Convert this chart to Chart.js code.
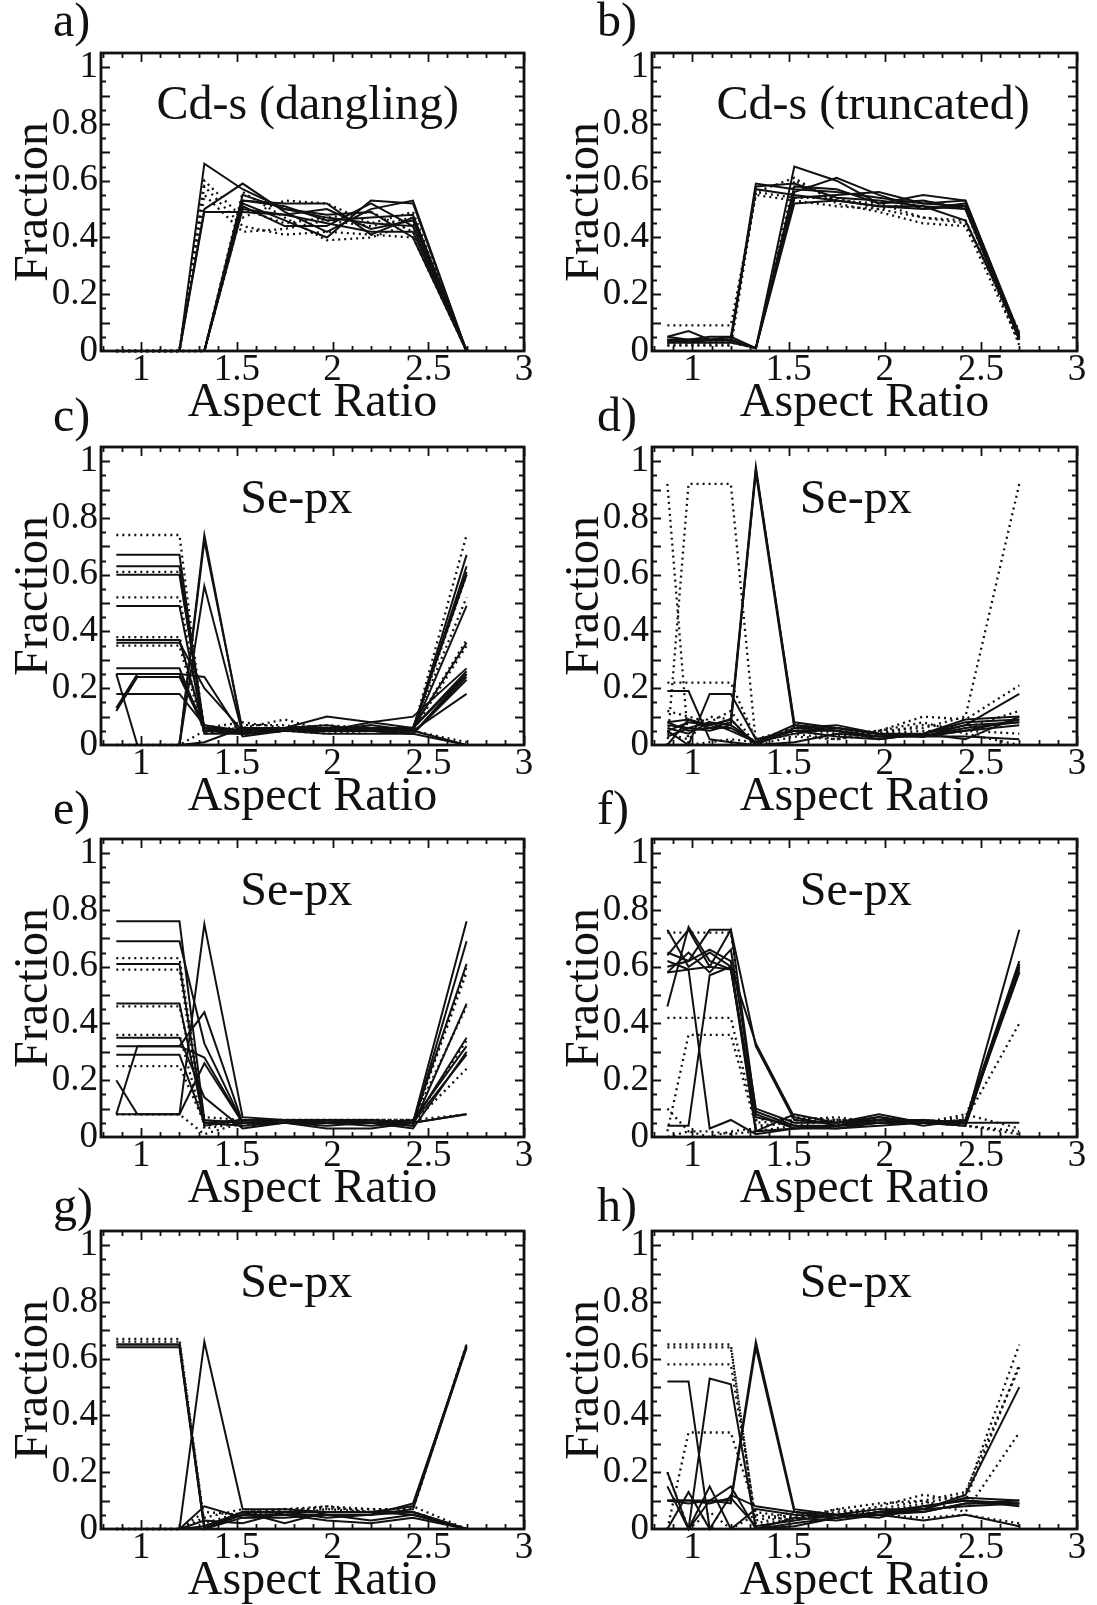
<!DOCTYPE html>
<html>
<head>
<meta charset="utf-8">
<script src="https://cdn.jsdelivr.net/npm/chart.js@4.4.1/dist/chart.umd.min.js"></script>
<style>
  html, body { margin: 0; padding: 0; background: #fff; }
  body { width: 1097px; height: 1605px; position: relative; overflow: hidden; }
  canvas { position: absolute; }
</style>
</head>
<body>
<script>
// aspect ratios sampled in every panel
const aspectRatios = [0.87, 0.98, 1.09, 1.2, 1.33, 1.53, 1.75, 1.97, 2.2, 2.42, 2.7];

// a) Cd-s (dangling)
const panelA_solid = [
    [0, 0, 0, 0, 0.66, 0.57, 0.50, 0.47, 0.45, 0.44, 0],
    [0, 0, 0, 0, 0.49, 0.49, 0.48, 0.45, 0.42, 0.42, 0],
    [0, 0, 0, 0, 0.50, 0.59, 0.49, 0.42, 0.50, 0.53, 0],
    [0, 0, 0, 0, 0, 0.53, 0.52, 0.52, 0.41, 0.47, 0],
    [0, 0, 0, 0, 0, 0.52, 0.46, 0.40, 0.53, 0.52, 0],
    [0, 0, 0, 0, 0, 0.55, 0.50, 0.48, 0.49, 0.40, 0],
    [0, 0, 0, 0, 0, 0.51, 0.44, 0.44, 0.52, 0.44, 0],
    [0, 0, 0, 0, 0, 0.53, 0.51, 0.46, 0.47, 0.48, 0],
    [0, 0, 0, 0, 0, 0.50, 0.48, 0.50, 0.43, 0.46, 0]
];
const panelA_dotted = [
    [0, 0, 0, 0, 0.58, 0.44, 0.41, 0.42, 0.41, 0.40, 0],
    [0, 0, 0, 0, 0.55, 0.42, 0.43, 0.46, 0.44, 0.47, 0],
    [0, 0, 0, 0, 0.60, 0.47, 0.53, 0.52, 0.45, 0.49, 0],
    [0, 0, 0, 0, 0, 0.56, 0.47, 0.39, 0.40, 0.45, 0],
    [0, 0, 0, 0, 0, 0.50, 0.45, 0.47, 0.49, 0.42, 0]
];

// b) Cd-s (truncated)
const panelB_solid = [
    [0.05, 0.07, 0.04, 0.04, 0.59, 0.57, 0.56, 0.54, 0.52, 0.53, 0.05],
    [0.04, 0.04, 0.04, 0.05, 0.57, 0.55, 0.53, 0.51, 0.50, 0.51, 0.04],
    [0.03, 0.03, 0.03, 0.03, 0.58, 0.59, 0.54, 0.53, 0.51, 0.46, 0.06],
    [0.04, 0.04, 0.04, 0.04, 0.01, 0.65, 0.60, 0.52, 0.53, 0.50, 0.05],
    [0.03, 0.03, 0.04, 0.04, 0.01, 0.56, 0.61, 0.55, 0.50, 0.52, 0.04],
    [0.04, 0.03, 0.03, 0.03, 0.01, 0.54, 0.55, 0.56, 0.52, 0.51, 0.05],
    [0.05, 0.04, 0.05, 0.05, 0.01, 0.58, 0.57, 0.52, 0.55, 0.53, 0.06],
    [0.03, 0.04, 0.04, 0.04, 0.01, 0.52, 0.53, 0.51, 0.51, 0.50, 0.04]
];
const panelB_dotted = [
    [0.09, 0.09, 0.09, 0.09, 0.55, 0.53, 0.51, 0.50, 0.47, 0.45, 0.07],
    [0.02, 0.02, 0.02, 0.02, 0.56, 0.61, 0.52, 0.49, 0.45, 0.44, 0.03],
    [0.03, 0.03, 0.03, 0.03, 0.01, 0.60, 0.53, 0.52, 0.47, 0.46, 0.05],
    [0.02, 0.02, 0.02, 0.02, 0.56, 0.54, 0.54, 0.50, 0.53, 0.50, 0.02]
];

// c) Se-px
const panelC_solid = [
    [0.67, 0.67, 0.67, 0.67, 0.05, 0.05, 0.06, 0.06, 0.06, 0.05, 0.67],
    [0.63, 0.63, 0.63, 0.63, 0.04, 0.04, 0.05, 0.05, 0.05, 0.05, 0.63],
    [0.60, 0.60, 0.60, 0.60, 0.06, 0.05, 0.06, 0.07, 0.05, 0.06, 0.60],
    [0.49, 0.49, 0.49, 0.49, 0.05, 0.04, 0.05, 0.05, 0.06, 0.05, 0.49],
    [0.37, 0.37, 0.37, 0.37, 0.06, 0.05, 0.06, 0.10, 0.08, 0.10, 0.27],
    [0.27, 0.27, 0.27, 0.27, 0.05, 0.05, 0.05, 0.06, 0.05, 0.06, 0.25],
    [0.18, 0.18, 0.18, 0.18, 0.07, 0.05, 0.06, 0.05, 0.07, 0.05, 0.18],
    [0.13, 0.25, 0.25, 0.25, 0.07, 0.04, 0.05, 0.06, 0.05, 0.04, 0.24],
    [0.12, 0.24, 0.24, 0.24, 0.06, 0.04, 0.05, 0.05, 0.05, 0.04, 0.23],
    [0.25, 0, 0, 0, 0.74, 0.04, 0.05, 0.05, 0.06, 0.05, 0],
    [0, 0, 0, 0, 0.72, 0.05, 0.06, 0.05, 0.05, 0.04, 0],
    [0, 0, 0, 0, 0.56, 0.04, 0.05, 0.05, 0.05, 0.06, 0.26],
    [0.25, 0.25, 0.25, 0.25, 0.24, 0.03, 0.05, 0.04, 0.04, 0.04, 0.25],
    [0.36, 0.36, 0.36, 0.36, 0.20, 0.05, 0.06, 0.05, 0.06, 0.06, 0.36],
    [0, 0, 0, 0, 0.01, 0.06, 0.06, 0.05, 0.08, 0.06, 0.61]
];
const panelC_dotted = [
    [0.74, 0.74, 0.74, 0.74, 0.04, 0.07, 0.07, 0.05, 0.05, 0.05, 0.74],
    [0.61, 0.61, 0.61, 0.61, 0.05, 0.06, 0.09, 0.05, 0.06, 0.06, 0.52],
    [0.52, 0.52, 0.52, 0.52, 0.06, 0.08, 0.06, 0.07, 0.06, 0.05, 0.60],
    [0.38, 0.38, 0.38, 0.38, 0.05, 0.05, 0.05, 0.06, 0.05, 0.06, 0.37],
    [0.35, 0.35, 0.35, 0.35, 0.04, 0.06, 0.05, 0.05, 0.06, 0.05, 0.35],
    [0, 0, 0, 0, 0.05, 0.05, 0.05, 0.04, 0.05, 0.05, 0.01]
];

// d) Se-px
const panelD_solid = [
    [0.05, 0.08, 0.07, 0.09, 0.98, 0.07, 0.06, 0.04, 0.04, 0.08, 0.09],
    [0.08, 0.05, 0.06, 0.08, 0.96, 0.06, 0.05, 0.03, 0.04, 0.07, 0.08],
    [0.07, 0.06, 0.08, 0.07, 0.97, 0.08, 0.06, 0.04, 0.03, 0.06, 0.08],
    [0.19, 0.19, 0.02, 0.01, 0, 0.06, 0.07, 0.04, 0.03, 0.07, 0.18],
    [0.05, 0, 0.18, 0.18, 0.02, 0.05, 0.05, 0.03, 0.03, 0.05, 0.09],
    [0.08, 0.09, 0.06, 0.06, 0.01, 0.07, 0.05, 0.02, 0.04, 0.09, 0.10],
    [0, 0.09, 0.07, 0.09, 0, 0.01, 0.04, 0.03, 0.03, 0.05, 0.07],
    [0.06, 0.04, 0.08, 0.05, 0.01, 0.04, 0.06, 0.04, 0.03, 0.03, 0.02],
    [0.03, 0.06, 0.05, 0.07, 0.01, 0.05, 0.03, 0.02, 0.04, 0.02, 0.10]
];
const panelD_dotted = [
    [0.92, 0, 0.01, 0.02, 0.01, 0.04, 0.02, 0.04, 0.05, 0.05, 0.04],
    [0, 0.92, 0.92, 0.92, 0.01, 0.05, 0.03, 0.05, 0.06, 0.10, 0.92],
    [0.22, 0.22, 0.22, 0.22, 0.02, 0.06, 0.04, 0.05, 0.10, 0.09, 0.21],
    [0.12, 0.10, 0.08, 0.12, 0, 0.07, 0.05, 0.04, 0.07, 0.06, 0.12],
    [0.04, 0.02, 0.10, 0.09, 0, 0.03, 0.02, 0.05, 0.08, 0.04, 0]
];

// e) Se-px
const panelE_solid = [
    [0.76, 0.76, 0.76, 0.76, 0.06, 0.05, 0.05, 0.05, 0.05, 0.05, 0.76],
    [0.69, 0.69, 0.69, 0.69, 0.33, 0.05, 0.05, 0.06, 0.05, 0.04, 0.69],
    [0.61, 0.61, 0.61, 0.61, 0.04, 0.06, 0.05, 0.04, 0.05, 0.05, 0.61],
    [0.47, 0.47, 0.47, 0.47, 0.05, 0.04, 0.05, 0.06, 0.05, 0.04, 0.47],
    [0.35, 0.35, 0.35, 0.35, 0.14, 0.03, 0.05, 0.05, 0.04, 0.05, 0.35],
    [0.32, 0.32, 0.32, 0.32, 0.28, 0.05, 0.05, 0.05, 0.05, 0.06, 0.32],
    [0.29, 0.29, 0.29, 0.29, 0.05, 0.06, 0.06, 0.05, 0.06, 0.05, 0.29],
    [0.20, 0.08, 0.08, 0.08, 0.75, 0.07, 0.06, 0.06, 0.06, 0.05, 0.08],
    [0.08, 0.32, 0.32, 0.32, 0.44, 0.05, 0.05, 0.03, 0.03, 0.05, 0.08],
    [0.08, 0.08, 0.08, 0.08, 0.26, 0.05, 0.05, 0.06, 0.05, 0.03, 0.30]
];
const panelE_dotted = [
    [0.63, 0.63, 0.63, 0.63, 0.05, 0.05, 0.05, 0.05, 0.05, 0.05, 0.60],
    [0.59, 0.59, 0.59, 0.59, 0.03, 0.05, 0.05, 0.05, 0.05, 0.05, 0.58],
    [0.46, 0.46, 0.46, 0.46, 0.07, 0.06, 0.06, 0.06, 0.06, 0.06, 0.46],
    [0.36, 0.36, 0.36, 0.36, 0.04, 0.05, 0.05, 0.06, 0.05, 0.05, 0.34],
    [0.25, 0.25, 0.25, 0.25, 0.05, 0.04, 0.05, 0.05, 0.05, 0.05, 0.24],
    [0.08, 0.08, 0.08, 0.08, 0.01, 0.05, 0.06, 0.06, 0.06, 0.06, 0.08]
];

// f) Se-px
const panelF_solid = [
    [0.73, 0.60, 0.65, 0.60, 0.33, 0.07, 0.04, 0.07, 0.05, 0.05, 0.73],
    [0.64, 0.73, 0.60, 0.73, 0.32, 0.06, 0.05, 0.08, 0.05, 0.06, 0.62],
    [0.60, 0.62, 0.73, 0.73, 0.09, 0.04, 0.04, 0.06, 0.06, 0.05, 0.61],
    [0.46, 0.74, 0.62, 0.59, 0.08, 0.03, 0.04, 0.05, 0.05, 0.05, 0.60],
    [0.58, 0.65, 0.58, 0.66, 0.10, 0.05, 0.05, 0.07, 0.04, 0.06, 0.59],
    [0.62, 0.59, 0.60, 0.59, 0.07, 0.04, 0.03, 0.05, 0.06, 0.05, 0.58],
    [0.04, 0.04, 0.57, 0.60, 0.02, 0.08, 0.05, 0.06, 0.05, 0.04, 0.61],
    [0.58, 0.59, 0.03, 0.06, 0.01, 0.03, 0.03, 0.04, 0.05, 0.05, 0.05],
    [0.65, 0.62, 0.66, 0.62, 0.02, 0.03, 0.04, 0.05, 0.05, 0.04, 0.60]
];
const panelF_dotted = [
    [0.72, 0.72, 0.72, 0.72, 0.06, 0.07, 0.06, 0.05, 0.05, 0.06, 0.40],
    [0.42, 0.42, 0.42, 0.42, 0.05, 0.06, 0.05, 0.05, 0.05, 0.07, 0.58],
    [0.02, 0.36, 0.36, 0.36, 0.04, 0.05, 0.06, 0.06, 0.05, 0.04, 0.02],
    [0, 0.02, 0, 0.02, 0.03, 0.06, 0.07, 0.05, 0.06, 0.04, 0.01],
    [0.10, 0.02, 0.02, 0.01, 0.02, 0.04, 0.06, 0.06, 0.05, 0.08, 0.03]
];

// g) Se-px
const panelG_solid = [
    [0.65, 0.65, 0.65, 0.65, 0, 0.06, 0.06, 0.06, 0.06, 0.08, 0.65],
    [0.65, 0.65, 0.65, 0.65, 0.01, 0.05, 0.05, 0.05, 0.05, 0.07, 0.64],
    [0.64, 0.64, 0.64, 0.64, 0, 0.04, 0.04, 0.05, 0.05, 0.09, 0.64],
    [0, 0, 0, 0, 0.66, 0.07, 0.07, 0.06, 0.06, 0.06, 0],
    [0, 0, 0, 0, 0.08, 0.04, 0.05, 0.05, 0.03, 0.05, 0],
    [0, 0, 0, 0, 0.03, 0.02, 0.06, 0.04, 0.05, 0.06, 0],
    [0, 0, 0, 0, 0.01, 0.06, 0.02, 0.06, 0.06, 0.05, 0],
    [0, 0, 0, 0, 0, 0.05, 0.05, 0.03, 0.02, 0.04, 0]
];
const panelG_dotted = [
    [0.67, 0.67, 0.67, 0.67, 0.02, 0.06, 0.07, 0.07, 0.07, 0.07, 0.65],
    [0.66, 0.66, 0.66, 0.66, 0.01, 0.05, 0.06, 0.08, 0.07, 0.07, 0.65],
    [0, 0, 0, 0, 0.06, 0.05, 0.07, 0.08, 0.06, 0.08, 0],
    [0, 0, 0, 0, 0.04, 0.07, 0.05, 0.07, 0.06, 0.06, 0]
];

// h) Se-px
const panelH_solid = [
    [0.52, 0.52, 0, 0, 0.07, 0.05, 0.04, 0.06, 0.07, 0.12, 0.50],
    [0, 0, 0.53, 0.51, 0, 0.02, 0.04, 0.06, 0.08, 0.10, 0.09],
    [0.10, 0.10, 0.10, 0.10, 0.66, 0.07, 0.05, 0.05, 0.07, 0.08, 0.09],
    [0.10, 0.09, 0.10, 0.09, 0.64, 0.06, 0.04, 0.06, 0.06, 0.09, 0.10],
    [0.20, 0, 0.15, 0, 0, 0.04, 0.03, 0.05, 0.06, 0.09, 0.09],
    [0.15, 0, 0.10, 0.15, 0, 0.01, 0.04, 0.05, 0.03, 0.05, 0.01],
    [0, 0.13, 0, 0.12, 0.08, 0.06, 0.05, 0.07, 0.07, 0.11, 0.10],
    [0.10, 0.10, 0.09, 0.11, 0.01, 0.03, 0.05, 0.04, 0.08, 0.10, 0.08]
];
const panelH_dotted = [
    [0.65, 0.65, 0.65, 0.65, 0.01, 0.04, 0.05, 0.06, 0.09, 0.12, 0.65],
    [0.64, 0.64, 0.64, 0.64, 0.02, 0.05, 0.06, 0.07, 0.10, 0.13, 0.57],
    [0.58, 0.58, 0.58, 0.58, 0.03, 0.06, 0.05, 0.08, 0.12, 0.10, 0.58],
    [0, 0.34, 0.34, 0.34, 0.06, 0.04, 0.07, 0.09, 0.10, 0.06, 0.34],
    [0.20, 0, 0.06, 0, 0.05, 0.03, 0.07, 0.05, 0.04, 0.05, 0.02]
];

const panelLetters = ['a)', 'b)', 'c)', 'd)', 'e)', 'f)', 'g)', 'h)'];
const panelTitles = ['Cd-s (dangling)', 'Cd-s (truncated)', 'Se-px', 'Se-px', 'Se-px', 'Se-px', 'Se-px', 'Se-px'];
const solidSeries = [panelA_solid, panelB_solid, panelC_solid, panelD_solid, panelE_solid, panelF_solid, panelG_solid, panelH_solid];
const dottedSeries = [panelA_dotted, panelB_dotted, panelC_dotted, panelD_dotted, panelE_dotted, panelF_dotted, panelG_dotted, panelH_dotted];

// layout
const FONT = "'Liberation Serif', 'Times New Roman', serif";
const INK = '#111';
const colLeft = [1, 552];
const colWidth = [543, 545];
const rowTop = [0, 393.5, 786, 1178];
const letterX = [52, 45];
const letterGap = [17, 16, 15, 10];
const titleCenter = [1.87, 1.94, 1.81, 1.85, 1.81, 1.85, 1.81, 1.85];

// frame + inward ticks on all four sides + panel text
const framePlugin = {
    id: 'frame',
    afterDraw(chart, args, opts) {
        const {ctx, chartArea: a, scales: {x, y}} = chart;
        ctx.save();
        ctx.strokeStyle = INK;
        ctx.lineWidth = 1.8;
        ctx.beginPath();
        for (let i = 8; i <= 30; i++) {
            const v = i / 10;
            const px = Math.round(x.getPixelForValue(v)) + 0.5;
            const len = (i % 5 === 0) ? 9 : 5;
            ctx.moveTo(px, a.bottom); ctx.lineTo(px, a.bottom - len);
            ctx.moveTo(px, a.top); ctx.lineTo(px, a.top + len);
        }
        for (let i = 1; i <= 20; i++) {
            const v = i * 0.05;
            const py = Math.round(y.getPixelForValue(v)) + 0.5;
            const len = (i % 2 === 0) ? 9 : 5;
            ctx.moveTo(a.left, py); ctx.lineTo(a.left + len, py);
            ctx.moveTo(a.right, py); ctx.lineTo(a.right - len, py);
        }
        ctx.stroke();
        ctx.lineWidth = 2.8;
        ctx.strokeRect(a.left, a.top, a.right - a.left, a.bottom - a.top);

        ctx.fillStyle = INK;
        ctx.textBaseline = 'alphabetic';
        ctx.textAlign = 'center';
        ctx.font = '48px ' + FONT;
        ctx.fillText(opts.title, x.getPixelForValue(opts.titleX), a.top + 66);
        ctx.textAlign = 'left';
        ctx.fillText(opts.letter, opts.letterX, a.top - opts.letterGap);
        ctx.restore();
    }
};

const fmt = v => String(Math.round(v * 100) / 100);

panelLetters.forEach((letter, p) => {
    const col = p % 2;
    const row = Math.floor(p / 2);
    const canvas = document.createElement('canvas');
    canvas.width = colWidth[col];
    canvas.height = 427;
    canvas.style.left = colLeft[col] + 'px';
    canvas.style.top = rowTop[row] + 'px';
    canvas.style.width = colWidth[col] + 'px';
    canvas.style.height = '427px';
    document.body.appendChild(canvas);

    const toPoints = s => aspectRatios.map((x, i) => ({x: x, y: s[i]}));
    const datasets = [];
    dottedSeries[p].forEach(s => datasets.push({
        data: toPoints(s), borderColor: INK, borderWidth: 2.3,
        borderDash: [2, 4], pointRadius: 0, tension: 0, clip: false
    }));
    solidSeries[p].forEach(s => datasets.push({
        data: toPoints(s), borderColor: INK, borderWidth: 2,
        pointRadius: 0, tension: 0, clip: false
    }));

    new Chart(canvas, {
        type: 'line',
        data: {datasets: datasets},
        plugins: [framePlugin],
        options: {
            responsive: false,
            animation: false,
            devicePixelRatio: 1,
            layout: {padding: {top: 53, right: 20, bottom: 0, left: 0}},
            plugins: {
                legend: {display: false},
                tooltip: {enabled: false},
                frame: {
                    title: panelTitles[p], titleX: titleCenter[p], letter: letter,
                    letterX: letterX[col], letterGap: letterGap[row]
                }
            },
            scales: {
                x: {
                    type: 'linear', min: 0.79, max: 3.0,
                    grid: {display: false, drawTicks: false},
                    border: {display: false},
                    ticks: {
                        stepSize: 0.5, includeBounds: false, autoSkip: false, maxRotation: 0,
                        padding: 1, color: INK, callback: fmt,
                        font: {family: FONT, size: 37, lineHeight: 1}
                    },
                    title: {
                        display: true, text: 'Aspect Ratio', color: INK, padding: 0,
                        font: {family: FONT, size: 48, lineHeight: 1}
                    },
                    afterFit: s => { s.height = 76; }
                },
                y: {
                    min: 0, max: 1.05,
                    grid: {display: false, drawTicks: false},
                    border: {display: false},
                    ticks: {
                        stepSize: 0.2, includeBounds: false, padding: 3,
                        color: INK, callback: fmt,
                        font: {family: FONT, size: 37, lineHeight: 1}
                    },
                    title: {
                        display: true, text: 'Fraction', color: INK,
                        padding: {top: 9, bottom: 0},
                        font: {family: FONT, size: 48, lineHeight: 1}
                    },
                    afterFit: s => { s.width = 100; }
                }
            }
        }
    });
});
</script>
</body>
</html>
